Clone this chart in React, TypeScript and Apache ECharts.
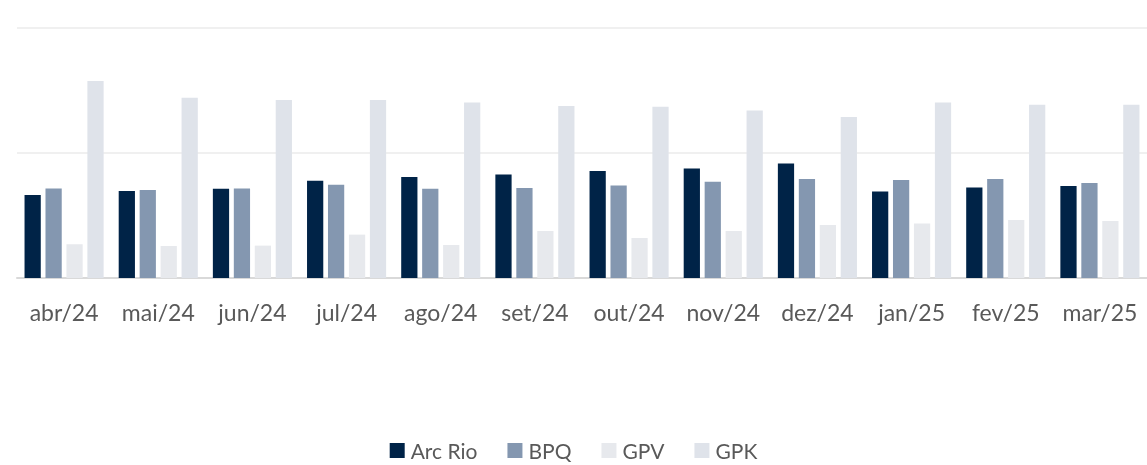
import React, { useEffect, useRef } from "react";
import * as echarts from "echarts";

const categories = ["abr/24", "mai/24", "jun/24", "jul/24", "ago/24", "set/24", "out/24", "nov/24", "dez/24", "jan/25", "fev/25", "mar/25"];
const arcRio = [0.664, 0.696, 0.715, 0.779, 0.808, 0.829, 0.856, 0.877, 0.917, 0.693, 0.725, 0.736];
const bpq = [0.717, 0.704, 0.717, 0.747, 0.715, 0.72, 0.741, 0.771, 0.792, 0.784, 0.792, 0.76];
const gpv = [0.27, 0.256, 0.259, 0.347, 0.264, 0.376, 0.32, 0.376, 0.424, 0.437, 0.464, 0.456];
const gpk = [1.576, 1.443, 1.424, 1.424, 1.405, 1.376, 1.371, 1.341, 1.288, 1.405, 1.387, 1.387];

const FONT = "Lato, 'Open Sans', sans-serif";

export default function App() {
  const ref = useRef<HTMLDivElement>(null);
  useEffect(() => {
    if (!ref.current) return;
    const chart = echarts.init(ref.current, null, { renderer: "svg" });
    const mk = (name: string, data: number[], color: string) => ({
      name,
      type: "bar",
      data,
      barCategoryGap: "16%",
      barGap: "29%",
      itemStyle: { color },
    });
    chart.setOption({
      animation: false,
      textStyle: { fontFamily: FONT },
      grid: { left: 17, right: -7, top: 28, bottom: 187, containLabel: false },
      legend: {
        top: 440,
        left: "center",
        padding: 0,
        itemWidth: 15,
        itemHeight: 15,
        itemGap: 30,
        icon: "rect",
        textStyle: { fontSize: 21, lineHeight: 21, color: "#595959", fontFamily: FONT, padding: [0, 0, 0, 1] },
        data: ["Arc Rio", "BPQ", "GPV", "GPK"],
      },
      xAxis: {
        type: "category",
        data: categories,
        axisTick: { show: false },
        axisLine: { lineStyle: { color: "#D9D9D9", width: 2 } },
        axisLabel: { interval: 0, fontSize: 23, color: "#595959", margin: 22, fontFamily: FONT },
      },
      yAxis: {
        type: "value",
        min: 0,
        max: 2,
        interval: 1,
        axisLabel: { show: false },
        axisLine: { show: false },
        axisTick: { show: false },
        splitLine: { lineStyle: { color: "#F0F0F0", width: 2 } },
      },
      series: [
        mk("Arc Rio", arcRio, "#002347"),
        mk("BPQ", bpq, "#8497B0"),
        mk("GPV", gpv, "#E7E9ED"),
        mk("GPK", gpk, "#DFE3EA"),
      ],
    });
    return () => chart.dispose();
  }, []);
  return <div ref={ref} style={{ position: "fixed", left: 0, top: 0, width: 1147, height: 465 }} />;
}
